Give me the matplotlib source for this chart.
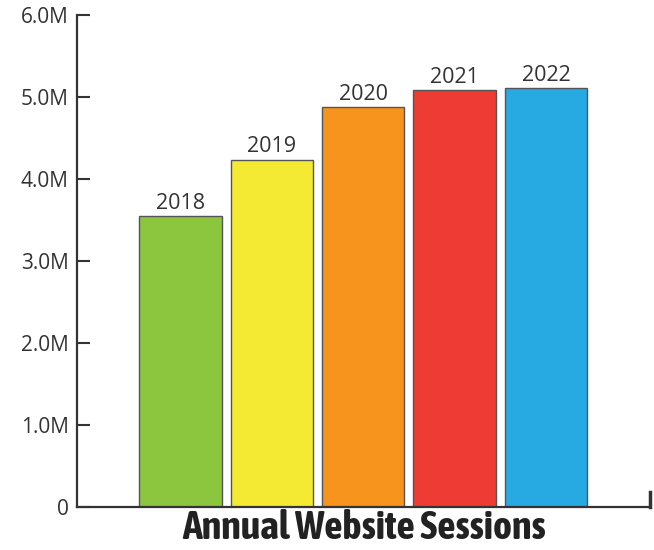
import matplotlib
matplotlib.use("Agg")
import matplotlib.pyplot as plt
from matplotlib.ticker import FixedLocator

# --------- data ---------
years    = ["2018", "2019", "2020", "2021", "2022"]
sessions = [3.55, 4.24, 4.88, 5.09, 5.11]   # millions
colors   = ["#8CC63F", "#F4EA33", "#F7941D", "#EE3B33", "#27A9E1"]
yticks   = [0, 1, 2, 3, 4, 5, 6]
ylabels  = ["0", "1.0M", "2.0M", "3.0M", "4.0M", "5.0M", "6.0M"]
title    = "Annual Website Sessions"

TXT = "#333333"
COND = ["Asap Condensed", "Barlow Condensed", "Liberation Sans Narrow", "DejaVu Sans"]
plt.rcParams["font.family"] = ["Open Sans", "DejaVu Sans"]

fig = plt.figure(figsize=(6.54, 5.5), dpi=100)
ax = fig.add_axes([0.118, 0.078, 0.876, 0.894])

x = list(range(len(years)))
ax.bar(x, sessions, width=0.9, color=colors, edgecolor="#555555", linewidth=1.0)

for xi, v, lab in zip(x, sessions, years):
    ax.text(xi, v + 0.03, lab, ha="center", va="bottom", fontsize=15.5, color=TXT)

ax.set_xlim(-1.13, 5.14)
ax.set_ylim(0, 6)
ax.yaxis.set_major_locator(FixedLocator(yticks))
ax.set_yticklabels(ylabels)
ax.tick_params(axis="y", direction="in", length=9.5, width=1.5, colors="#333333",
               labelsize=15, labelcolor=TXT, pad=6)
ax.set_xticks([])

for s in ("top", "right"):
    ax.spines[s].set_visible(False)
for s in ("left", "bottom"):
    ax.spines[s].set_linewidth(1.6)
    ax.spines[s].set_color("#333333")

# small end tick on the right side of the baseline
ax.axvline(5.14, ymin=0, ymax=0.03, color="#333333", lw=2.5, clip_on=False)

ax.set_xlabel(title, fontsize=29, fontweight="bold", color="#222222", family=COND)
ax.xaxis.set_label_coords(0.5, -0.003)
ax.xaxis.label.set_va("top")

fig.savefig("out.png", dpi=100)
